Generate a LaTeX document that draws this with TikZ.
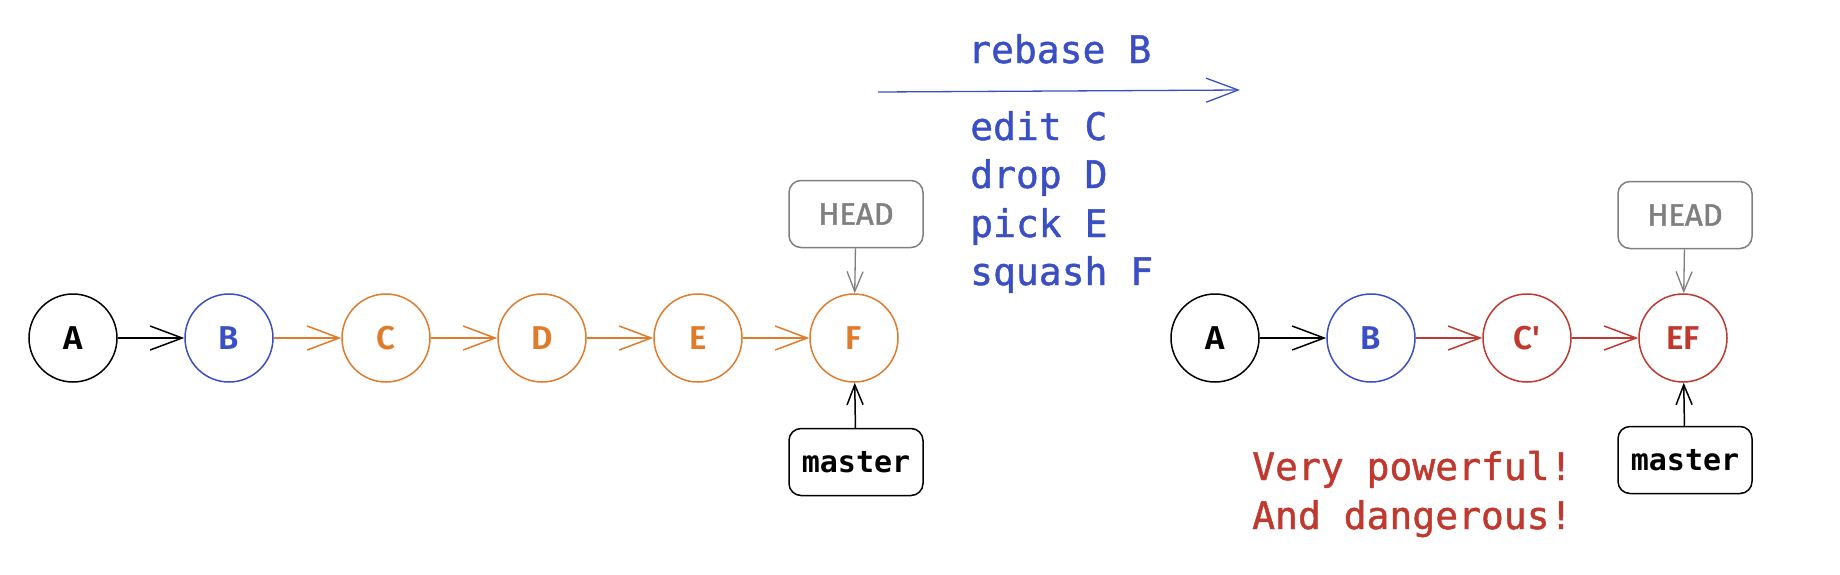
\documentclass[tikz,border=0pt]{standalone}
\usepackage{fontspec}
\setmainfont{Fira Sans}[BoldFont={Fira Sans SemiBold}]
\setmonofont{DejaVu Sans Mono}
\newfontfamily\codefont{DejaVu Sans Mono}[FakeBold=1.2]
\newfontfamily\headfont{Fira Sans}[FakeBold=1.5]
\usetikzlibrary{arrows.meta}
\definecolor{cblue}{HTML}{3B4FC4}
\definecolor{corange}{HTML}{E07B2C}
\definecolor{cred}{HTML}{C0392F}
\definecolor{cgray}{HTML}{7F7F7F}
\begin{document}
\begin{tikzpicture}[x=1pt,y=-1pt,
  commit/.style={circle,draw,line width=1.5pt,minimum size=88pt,inner sep=0pt,
    font=\fontsize{33}{33}\selectfont\bfseries},
  refbox/.style={rounded corners=12pt,draw,line width=1.5pt,minimum width=134pt,
    minimum height=67pt,inner sep=0pt},
  headbox/.style={refbox,draw=cgray,text=cgray,font=\headfont\fontsize{31}{31}\selectfont},
  branchbox/.style={refbox,font=\ttfamily\bfseries\fontsize{30}{30}\selectfont},
  link/.style={line width=1.5pt,-{Straight Barb[length=32pt,width=24pt]}},
  vlink/.style={line width=1.5pt,-{Straight Barb[length=20pt,width=16pt]}},
  cmd/.style={anchor=base west,inner sep=0pt,font=\codefont\fontsize{38}{48}\selectfont}
]
\useasboundingbox (0,0) rectangle (1840,574);

% left graph
\node[commit] (a1) at (73,338) {A};
\node[commit,draw=cblue,text=cblue] (b1) at (229,338) {B};
\node[commit,draw=corange,text=corange] (c1) at (386,338) {C};
\node[commit,draw=corange,text=corange] (d1) at (542,338) {D};
\node[commit,draw=corange,text=corange] (e1) at (698,338) {E};
\node[commit,draw=corange,text=corange] (f1) at (854,338) {F};
\node[headbox] (h1) at (856,214) {HEAD};
\node[branchbox] (m1) at (856,462) {master};

\draw[link] (a1) -- (b1);
\draw[link,corange] (b1) -- (c1);
\draw[link,corange] (c1) -- (d1);
\draw[link,corange] (d1) -- (e1);
\draw[link,corange] (e1) -- (f1);
\draw[vlink,cgray,line width=1.3pt] (h1) -- (f1);
\draw[vlink] (m1) -- (f1);

% middle
\node[cmd,text=cblue] (rb) at (968,63) {rebase B};
\coordinate (ts) at (878,92);
\coordinate (te) at (1240,90);
\draw[link,cblue,line width=1.3pt] (ts) -- (te);
\node[cmd,text=cblue] (l1) at (970,140) {edit C};
\node[cmd,text=cblue] (l2) at (970,188) {drop D};
\node[cmd,text=cblue] (l3) at (970,237) {pick E};
\node[cmd,text=cblue] (l4) at (970,285) {squash F};

% right graph
\node[commit] (a2) at (1215,338) {A};
\node[commit,draw=cblue,text=cblue] (b2) at (1371,338) {B};
\node[commit,draw=cred,text=cred] (c2) at (1527,338) {C\textquotesingle};
\node[commit,draw=cred,text=cred] (ef) at (1683,338) {EF};
\node[headbox] (h2) at (1685,215) {HEAD};
\node[branchbox] (m2) at (1685,460) {master};

\draw[link] (a2) -- (b2);
\draw[link,cred] (b2) -- (c2);
\draw[link,cred] (c2) -- (ef);
\draw[vlink,cgray,line width=1.3pt] (h2) -- (ef);
\draw[vlink] (m2) -- (ef);

\node[cmd,text=cred] (w1) at (1252,480) {Very powerful!};
\node[cmd,text=cred] (w2) at (1252,529) {And dangerous!};
\end{tikzpicture}
\end{document}
